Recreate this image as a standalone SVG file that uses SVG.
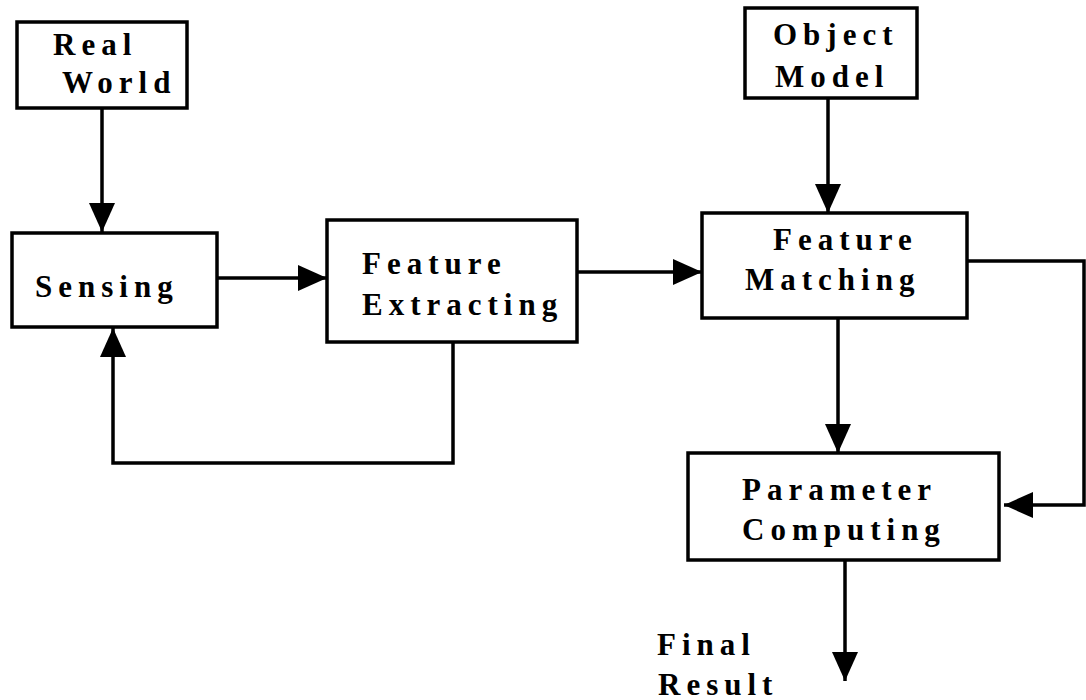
<svg xmlns="http://www.w3.org/2000/svg" width="1086" height="700" viewBox="0 0 1086 700">
<style>
.box{fill:#fff;stroke:#000;stroke-width:3.5}
text{font-family:'Liberation Serif','Times New Roman','DejaVu Serif',serif;font-weight:700;font-size:31px;letter-spacing:6px;fill:#000}
.con{fill:none;stroke:#000;stroke-width:3.5;marker-end:url(#ah)}
</style>
<defs>
<marker id="ah" markerUnits="userSpaceOnUse" markerWidth="30" markerHeight="28" refX="29" refY="13" orient="auto">
<path d="M0,0 L29,13 L0,26 z" fill="#000"/>
</marker>
</defs>
<rect width="1086" height="700" fill="#fff"/>
<g id="connectors">
<path class="con" d="M102,108 L102,232"/>
<path class="con" d="M217,278 L327,278"/>
<path class="con" d="M453,342 L453,463 L113,463 L113,328"/>
<path class="con" d="M577,272 L702,272"/>
<path class="con" d="M828,98 L828,213"/>
<path class="con" d="M838,318 L838,453"/>
<path class="con" d="M967,261 L1084,261 L1084,505 L1004,505"/>
<path class="con" d="M845,560 L845,681"/>
</g>
<g id="real-world">
<rect class="box" x="17" y="22" width="170" height="86"/>
<text x="53" y="55" font-family="Liberation Serif, serif">Real</text>
<text x="62" y="93" font-family="Liberation Serif, serif">World</text>
</g>
<g id="sensing">
<rect class="box" x="12" y="233" width="205" height="94"/>
<text x="35" y="297" font-family="Liberation Serif, serif">Sensing</text>
</g>
<g id="feature-extracting">
<rect class="box" x="327" y="220" width="250" height="122"/>
<text x="362" y="274" font-family="Liberation Serif, serif">Feature</text>
<text x="362" y="315" font-family="Liberation Serif, serif">Extracting</text>
</g>
<g id="object-model">
<rect class="box" x="745" y="8" width="172" height="90"/>
<text x="773" y="45" font-family="Liberation Serif, serif">Object</text>
<text x="775" y="87" font-family="Liberation Serif, serif">Model</text>
</g>
<g id="feature-matching">
<rect class="box" x="702" y="213" width="265" height="105"/>
<text x="773" y="250" font-family="Liberation Serif, serif">Feature</text>
<text x="745" y="290" font-family="Liberation Serif, serif">Matching</text>
</g>
<g id="parameter-computing">
<rect class="box" x="688" y="453" width="311" height="107"/>
<text x="742" y="500" font-family="Liberation Serif, serif">Parameter</text>
<text x="742" y="540" font-family="Liberation Serif, serif">Computing</text>
</g>
<g id="final-result">
<text x="657" y="655" font-family="Liberation Serif, serif">Final</text>
<text x="658" y="695" font-family="Liberation Serif, serif">Result</text>
</g>
</svg>
